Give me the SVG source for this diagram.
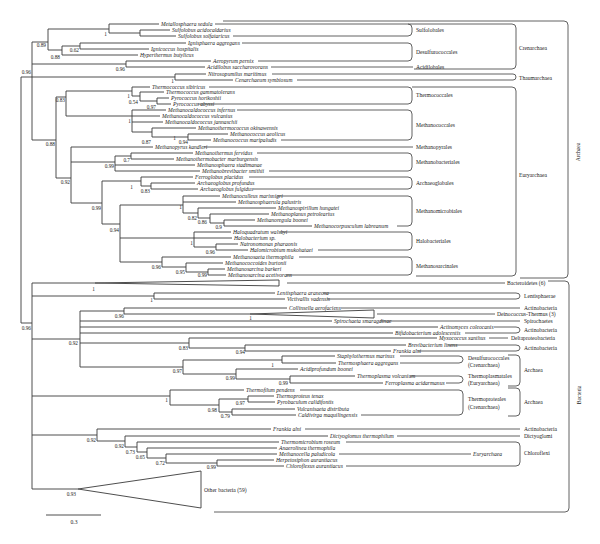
<svg xmlns="http://www.w3.org/2000/svg" width="600" height="544" viewBox="0 0 600 544">
<style>
.t{fill:none;stroke:#3a3a3a;stroke-width:0.9}
.w{fill:#fff;stroke:#3a3a3a;stroke-width:0.9}
.b{fill:none;stroke:#505050;stroke-width:0.9}
.sp{font-family:"Liberation Serif",serif;font-style:italic;font-size:5.6px;fill:#222}
.g{font-family:"Liberation Serif",serif;font-size:5.6px;fill:#222}
.n{font-family:"Liberation Serif",serif;font-size:5.3px;fill:#222;text-anchor:end}
</style>
<rect width="600" height="544" fill="#fff"/>
<g id="connectors">
<path class="t" d="M21,77V323 M21,77H32 M21,323H32 M32,42V140
M32,42H48 M48,29V50
M48,29H109 M109,24V33 M109,24H159 M109,33H140 M140,30V36 M140,30H170 M140,36H176
M48,50H62 M62,46V55 M62,55H138 M62,46H80 M80,43V49 M80,43H186 M80,49H149
M32,64H126 M126,61V67 M126,61H211 M126,67H205
M32,77H175 M175,74V80 M175,74H206 M175,80H233
M32,140H56 M56,97V178
M56,97H66 M66,91V116
M66,91H132 M132,87V96 M132,87H150 M132,96H140 M140,92V101 M140,92H164 M140,101H157 M157,98V104 M157,98H169 M157,104H171
M66,116H132 M132,110V132 M132,110H166 M132,116H160 M132,122H163 M132,132H152 M152,128V137 M152,128H196 M152,137H188 M188,134V140 M188,134H228 M188,140H211
M56,178H71 M71,147V203 M71,147H153
M71,162H115 M115,156V171 M115,156H131 M131,153V159 M131,153H193 M131,159H174 M115,165H195 M115,171H200
M71,203H102 M102,181V224
M102,181H141 M141,177V186 M141,177H193 M141,186H151 M151,183V189 M151,183H195 M151,189H198
M102,224H120 M120,205V262
M120,205H183 M183,196V213 M183,196H220 M183,202H236 M183,213H198 M198,208V218 M198,208H276 M198,218H210 M210,214V223 M210,214H269 M210,223H224 M224,220V226 M224,220H255 M224,226H312
M120,238H194 M194,232V247 M194,232H231 M194,238H232 M194,247H216 M216,244V250 M216,244H238 M216,250H248
M120,262H162 M162,257V267 M162,257H231 M162,267H186 M186,263V272 M186,263H223 M186,272H208 M208,269V275 M208,269H225 M208,275H226
M32,283V489 M32,283H95
M32,296H154 M154,293V299 M154,293H275 M154,299H285
M32,339H80 M80,311V367
M80,311H124 M124,308V314 M124,308H287 M124,314H250
M80,321H332 M80,327H438 M80,333H393
M80,343H189 M189,338V348 M189,338H437 M189,348H245 M245,345V351 M245,345H406 M245,351H391
M80,367H183 M183,360V374 M183,360H282 M282,356V363 M282,356H335 M282,363H336 M183,374H236 M236,369V379 M236,369H298 M236,379H290 M290,376V383 M290,376H355 M290,383H383
M32,396H170 M170,390V405 M170,390H244 M170,405H219 M219,399V412 M219,399H248 M248,396V402 M248,396H274 M248,402H275 M219,412H232 M232,409V415 M232,409H295 M232,415H296
M32,435H97 M97,429V441 M97,429H271 M97,441H125 M125,436V447 M125,436H328 M125,447H137 M137,442V452 M137,442H279 M137,452H147 M147,448V458 M147,448H277 M147,458H166 M166,454V463 M166,454H277 M166,463H217 M217,460V466 M217,460H274 M217,466H284
M32,489H78"/>
<polygon class="w" points="95,283 279,280 279,286"/>
<polygon class="w" points="250,314 374,310 374,318"/>
<polygon class="w" points="78,489 201,471 201,508"/>
</g>
<g id="leaves" class="sp">
<g id="l01"><text x="161" y="26">Metallosphaera sedula</text></g>
<g id="l02"><text x="172" y="32">Sulfolobus acidocaldarius</text></g>
<g id="l03"><text x="178" y="38">Sulfolobus solfataricus</text></g>
<g id="l04"><text x="188" y="45">Ignisphaera aggregans</text></g>
<g id="l05"><text x="151" y="51">Ignicoccus hospitalis</text></g>
<g id="l06"><text x="140" y="57">Hyperthermus butylicus</text></g>
<g id="l07"><text x="213" y="63">Aeropyrum pernix</text></g>
<g id="l08"><text x="207" y="69">Acidilobus saccharovorans</text></g>
<g id="l09"><text x="208" y="76">Nitrosopumilus maritimus</text></g>
<g id="l10"><text x="235" y="82">Cenarchaeum symbiosum</text></g>
<g id="l11"><text x="152" y="89">Thermococcus sibiricus</text></g>
<g id="l12"><text x="166" y="94">Thermococcus gammatolerans</text></g>
<g id="l13"><text x="171" y="100">Pyrococcus horikoshii</text></g>
<g id="l14"><text x="173" y="106">Pyrococcus abyssi</text></g>
<g id="l15"><text x="168" y="112">Methanocaldococcus infernus</text></g>
<g id="l16"><text x="162" y="118">Methanocaldococcus vulcanius</text></g>
<g id="l17"><text x="165" y="124">Methanocaldococcus jannaschii</text></g>
<g id="l18"><text x="198" y="130">Methanothermococcus okinawensis</text></g>
<g id="l19"><text x="230" y="136">Methanococcus aeolicus</text></g>
<g id="l20"><text x="213" y="142">Methanococcus maripaludis</text></g>
<g id="l21"><text x="155" y="149">Methanopyrus kandleri</text></g>
<g id="l22"><text x="195" y="155">Methanothermus fervidus</text></g>
<g id="l23"><text x="176" y="161">Methanothermobacter marburgensis</text></g>
<g id="l24"><text x="197" y="167">Methanosphaera stadtmanae</text></g>
<g id="l25"><text x="202" y="173">Methanobrevibacter smithii</text></g>
<g id="l26"><text x="195" y="179">Ferroglobus placidus</text></g>
<g id="l27"><text x="197" y="185">Archaeoglobus profundus</text></g>
<g id="l28"><text x="200" y="191">Archaeoglobus fulgidus</text></g>
<g id="l29"><text x="222" y="198">Methanoculleus marisnigri</text></g>
<g id="l30"><text x="238" y="204">Methanosphaerula palustris</text></g>
<g id="l31"><text x="278" y="210">Methanospirillum hungatei</text></g>
<g id="l32"><text x="271" y="216">Methanoplanus petrolearius</text></g>
<g id="l33"><text x="257" y="222">Methanoregula boonei</text></g>
<g id="l34"><text x="314" y="228">Methanocorpusculum labreanum</text></g>
<g id="l35"><text x="233" y="234">Haloquadratum walsbyi</text></g>
<g id="l36"><text x="234" y="240">Halobacterium sp.</text></g>
<g id="l37"><text x="240" y="246">Natronomonas pharaonis</text></g>
<g id="l38"><text x="250" y="252">Halomicrobium mukohataei</text></g>
<g id="l39"><text x="233" y="259">Methanosaeta thermophila</text></g>
<g id="l40"><text x="225" y="265">Methanococcoides burtonii</text></g>
<g id="l41"><text x="227" y="271">Methanosarcina barkeri</text></g>
<g id="l42"><text x="228" y="277">Methanosarcina acetivorans</text></g>
<g id="l43"><text x="277" y="295">Lentisphaera araneosa</text></g>
<g id="l44"><text x="287" y="301">Victivallis vadensis</text></g>
<g id="l45"><text x="289" y="310">Collinsella aerofaciens</text></g>
<g id="l46"><text x="334" y="323">Spirochaeta smaragdinae</text></g>
<g id="l47"><text x="440" y="329">Actinomyces coleocanis</text></g>
<g id="l48"><text x="395" y="335">Bifidobacterium adolescentis</text></g>
<g id="l49"><text x="439" y="340">Myxococcus xanthus</text></g>
<g id="l50"><text x="408" y="347">Brevibacterium linens</text></g>
<g id="l51"><text x="393" y="353">Frankia alni</text></g>
<g id="l52"><text x="337" y="358">Staphylothermus marinus</text></g>
<g id="l53"><text x="338" y="365">Thermosphaera aggregans</text></g>
<g id="l54"><text x="300" y="371">Acidiprofundum boonei</text></g>
<g id="l55"><text x="357" y="378">Thermoplasma volcanium</text></g>
<g id="l56"><text x="385" y="385">Ferroplasma acidarmanus</text></g>
<g id="l57"><text x="246" y="392">Thermofilum pendens</text></g>
<g id="l58"><text x="276" y="398">Thermoproteus tenax</text></g>
<g id="l59"><text x="277" y="404">Pyrobaculum calidifontis</text></g>
<g id="l60"><text x="297" y="411">Vulcanisaeta distributa</text></g>
<g id="l61"><text x="298" y="417">Caldivirga maquilingensis</text></g>
<g id="l62"><text x="273" y="431">Frankia alni</text></g>
<g id="l63"><text x="330" y="438">Dictyoglomus thermophilum</text></g>
<g id="l64"><text x="281" y="444">Thermomicrobium roseum</text></g>
<g id="l65"><text x="279" y="450">Anaerolinea thermophila</text></g>
<g id="l66"><text x="279" y="456">Methanocella paludicola</text></g>
<g id="l67"><text x="276" y="462">Herpetosiphon aurantiacus</text></g>
<g id="l68"><text x="286" y="468">Chloroflexus aurantiacus</text></g>
</g>
<g id="support-values" class="n">
<text x="31" y="74">0.96</text><text x="31" y="330">0.96</text>
<text x="46" y="47">0.89</text><text x="107" y="36">1</text><text x="79" y="52">0.62</text><text x="60" y="59">0.88</text>
<text x="125" y="71">0.96</text><text x="174" y="82.6">1</text>
<text x="65" y="102">0.83</text><text x="130" y="98">1</text><text x="138" y="104">0.54</text><text x="156" y="109">0.97</text>
<text x="131" y="123">1</text><text x="151" y="144">0.87</text><text x="176" y="140">1</text><text x="188" y="144">0.94</text>
<text x="55" y="146">0.88</text><text x="130" y="162">0.7</text><text x="114" y="168">0.99</text><text x="70" y="184">0.92</text>
<text x="133" y="189">1</text><text x="150" y="193">0.83</text><text x="101" y="210">0.99</text><text x="119" y="232">0.94</text>
<text x="182" y="209">1</text><text x="197" y="220">0.82</text><text x="207" y="224">0.86</text><text x="222" y="229">0.9</text>
<text x="193" y="245">1</text><text x="215" y="254">0.96</text>
<text x="161" y="269">0.96</text><text x="185" y="274">0.95</text><text x="207" y="277">0.99</text>
<text x="95" y="291">1</text><text x="153" y="302">1</text><text x="124" y="318">0.96</text><text x="252" y="320">1</text>
<text x="78" y="345">0.92</text><text x="188" y="350">0.83</text><text x="245" y="354">0.94</text>
<text x="274" y="367">1</text><text x="182" y="373">0.97</text><text x="235" y="380">0.99</text><text x="288" y="385">0.99</text>
<text x="168" y="402">1</text><text x="245" y="405">0.97</text><text x="217" y="412">0.98</text><text x="230" y="418">0.79</text>
<text x="96" y="442">0.92</text><text x="124" y="448">0.92</text><text x="135" y="454">0.73</text><text x="145" y="459">0.65</text>
<text x="165" y="465">0.72</text><text x="216" y="469">0.99</text><text x="76" y="496">0.93</text>
</g>
<g id="collapsed-clades" class="g">
<g id="bacteroidetes"><path class="b" d="M287,283H505"/><text x="507" y="285">Bacteroidetes (6)</text></g>
<g id="deinococcus"><path class="b" d="M377,314H495"/><text x="497" y="316">Deinococcus-Thermus (3)</text></g>
<g id="other-bacteria"><text x="204" y="492">Other bacteria (59)</text></g>
</g>
<g id="clade-brackets" class="g">
<g id="sulfolobales"><path class="b" d="M215,24H408Q412,24 412,28V32Q412,36 408,36H233"/><text x="416" y="32">Sulfolobales</text></g>
<g id="desulfurococcales"><path class="b" d="M242,43H408Q412,43 412,47V57Q412,61 408,61H258"/><text x="416" y="54">Desulfurococcales</text></g>
<g id="acidilobales"><path class="b" d="M271,67H413"/><text x="416" y="69">Acidilobales</text></g>
<g id="crenarchaea"><path class="b" d="M408,24H512Q516,24 516,28V65Q516,69 512,69H414"/><text x="519" y="50">Crenarchaea</text></g>
<g id="thaumarchaea"><path class="b" d="M272,74H513Q516,74 516,77Q516,80 513,80H297"/><text x="519" y="80">Thaumarchaea</text></g>
<g id="thermococcales"><path class="b" d="M209,87H408Q412,87 412,91V100Q412,104 408,104H198"/><text x="416" y="97">Thermococcales</text></g>
<g id="methanococcales"><path class="b" d="M237,110H408Q412,110 412,114V136Q412,140 408,140H281"/><text x="416" y="127">Methanococcales</text></g>
<g id="methanopyrales"><path class="b" d="M204,147H413"/><text x="416" y="149">Methanopyrales</text></g>
<g id="methanobacteriales"><path class="b" d="M257,153H408Q412,153 412,157V167Q412,171 408,171H269"/><text x="416" y="164">Methanobacteriales</text></g>
<g id="archaeoglobales"><path class="b" d="M249,177H408Q412,177 412,181V185Q412,189 408,189H253"/><text x="416" y="185">Archaeoglobales</text></g>
<g id="methanomicrobiales"><path class="b" d="M277,196H408Q412,196 412,200V222Q412,226 408,226H397"/><text x="416" y="213">Methanomicrobiales</text></g>
<g id="halobacteriales"><path class="b" d="M280,232H408Q412,232 412,236V246Q412,250 408,250H318"/><text x="416" y="243">Halobacteriales</text></g>
<g id="methanosarcinales"><path class="b" d="M299,257H408Q412,257 412,261V271Q412,275 408,275H286"/><text x="416" y="268">Methanosarcinales</text></g>
<g id="euryarchaea"><path class="b" d="M412,87H512Q516,87 516,91V272Q516,276 512,276H416"/><text x="519" y="177">Euryarchaea</text></g>
<g id="archaea"><path class="b" d="M223,21H564Q568,21 568,25V274Q568,278 564,278H520"/><text transform="translate(580,152) rotate(-90)" text-anchor="middle">Archaea</text></g>
<g id="bacteria"><path class="b" d="M548,281H565Q569,281 569,285V508Q569,512 565,512H214"/><text transform="translate(581,395) rotate(-90)" text-anchor="middle">Bacteria</text></g>
<g id="lentisphaerae"><path class="b" d="M323,293H516Q520,293 520,296Q520,299 516,299H327"/><text x="524" y="298">Lentisphaerae</text></g>
<g id="actino1"><path class="b" d="M341,308H520"/><text x="524" y="310">Actinobacteria</text></g>
<g id="spirochaetes"><path class="b" d="M380,321H520"/><text x="524" y="323">Spirochaetes</text></g>
<g id="actino2"><path class="b" d="M494,327H516Q520,327 520,330Q520,333 516,333H465"/><text x="524" y="332">Actinobacteria</text></g>
<g id="deltaproteobacteria"><path class="b" d="M489,338H508"/><text x="511" y="340">Deltaproteobacteria</text></g>
<g id="actino3"><path class="b" d="M448,345H516Q520,345 520,348Q520,351 516,351H418"/><text x="524" y="350">Actinobacteria</text></g>
<g id="desulfuro-b"><path class="b" d="M400,356H459Q463,356 463,359.5Q463,363 459,363H400"/><text x="468" y="360">Desulfurococcales</text><text x="468" y="367">(Crenarchaea)</text></g>
<g id="thermoplasmatales"><path class="b" d="M410,376H459Q463,376 463,379.5Q463,383 459,383H446"/><text x="468" y="378">Thermoplasmatales</text><text x="468" y="385">(Euryarchaea)</text></g>
<g id="archaea-b1"><path class="b" d="M508,355H516Q520,355 520,359V382Q520,386 516,386H508"/><text x="524" y="372">Archaea</text></g>
<g id="thermoproteales"><path class="b" d="M300,390H459Q463,390 463,394V411Q463,415 459,415H361"/><text x="468" y="401">Thermoproteales</text><text x="468" y="409">(Crenarchaea)</text></g>
<g id="archaea-b2"><path class="b" d="M508,388H516Q520,388 520,392V412Q520,416 516,416H508"/><text x="524" y="404">Archaea</text></g>
<g id="actino4"><path class="b" d="M305,429H520"/><text x="524" y="431">Actinobacteria</text></g>
<g id="dictyoglomi"><path class="b" d="M397,436H520"/><text x="524" y="438">Dictyoglomi</text></g>
<g id="chloroflexi"><path class="b" d="M346,442H516Q520,442 520,446V462Q520,466 516,466H346"/><text x="524" y="455">Chloroflexi</text></g>
<g id="eury-b"><path class="b" d="M339,454H471"/><text x="473" y="456" font-style="italic">Euryarchaea</text></g>
</g>
<g id="scale-bar"><path class="t" d="M46,515H101"/><text class="g" x="74" y="524" text-anchor="middle">0.3</text></g>
</svg>
